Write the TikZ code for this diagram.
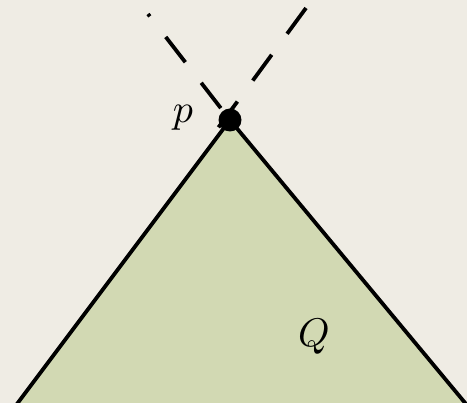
\documentclass[tikz,border=0pt]{standalone}
\definecolor{bgc}{HTML}{EFECE4}
\definecolor{regionc}{HTML}{D2D9B3}
\tikzset{
  edge/.style={line width=3.8pt, black},
  dashline/.style={line width=3.8pt, black, dash pattern=on 32pt off 26pt},
  lbl/.style={scale=4, inner sep=0pt},
}
\begin{document}
\begin{tikzpicture}[x=1pt,y=-1pt]
\fill[bgc] (0,0) rectangle (467,403);
\useasboundingbox (0,0) rectangle (467,403);
\coordinate (p) at (230,120);
\coordinate (L) at (17,404);
\coordinate (R) at (466,404);
\coordinate (t1) at (148,14);
\coordinate (t2) at (306,8);
\coordinate (e2) at (218,128);
\fill[regionc] (p) -- (L) -- (R) -- cycle;
\draw[edge] (L) -- (p) -- (R);
\draw[dashline, dash phase=29pt] (t1) -- (p);
\draw[dashline] (t2) -- (e2);
\fill[black] (p) circle (11.5);
\node[lbl] (plab) at (183,118) {$p$};
\node[lbl] (qlab) at (314,337) {$Q$};
\end{tikzpicture}
\end{document}
